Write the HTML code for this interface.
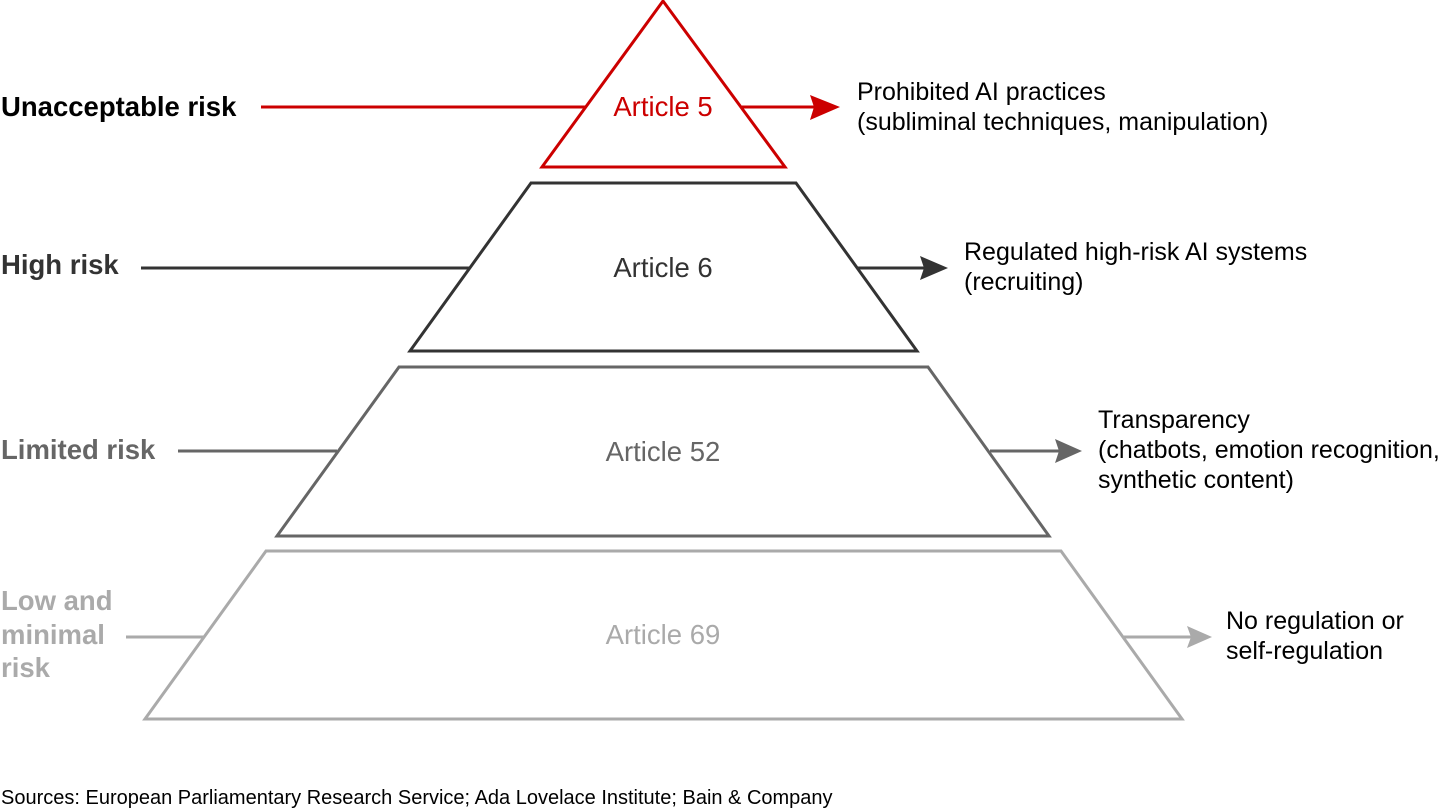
<!DOCTYPE html>
<html><head><meta charset="utf-8"><style>
html,body{margin:0;padding:0;background:#fff;}
svg{display:block}
text{font-family:"Liberation Sans",Arial,sans-serif;}
</style></head><body>
<svg width="1440" height="810" viewBox="0 0 1440 810" xmlns="http://www.w3.org/2000/svg">
<g fill="none" stroke-width="3">
<polygon points="663,1 542,167 785,167" stroke="#cc0000"/>
<polygon points="531,183 796,183 917,351 410,351" stroke="#333333"/>
<polygon points="399,367 928,367 1049,536 277,536" stroke="#666666"/>
<polygon points="266,551 1061,551 1182,719 145,719" stroke="#aaaaaa"/>
<line x1="261" y1="107" x2="586" y2="107" stroke="#cc0000"/>
<line x1="742" y1="107" x2="815" y2="107" stroke="#cc0000"/>
<line x1="141" y1="268" x2="470" y2="268" stroke="#333333"/>
<line x1="858" y1="268" x2="925" y2="268" stroke="#333333"/>
<line x1="178" y1="451" x2="337" y2="451" stroke="#666666"/>
<line x1="990" y1="451" x2="1060" y2="451" stroke="#666666"/>
<line x1="126" y1="637" x2="205" y2="637" stroke="#aaaaaa"/>
<line x1="1124" y1="637" x2="1192" y2="637" stroke="#aaaaaa"/>
</g>
<polygon points="840,107 810,95 814,107 810,120" fill="#cc0000"/>
<polygon points="948,268 920,256 924,268 920,280" fill="#333333"/>
<polygon points="1082,451 1055,439 1059,451 1055,463" fill="#666666"/>
<polygon points="1212,637 1187,626 1191,637 1187,648" fill="#aaaaaa"/>
<g font-size="27.5" text-anchor="middle">
<text x="663" y="116" fill="#cc0000">Article 5</text>
<text x="663" y="277" fill="#333333">Article 6</text>
<text x="663" y="461" fill="#666666">Article 52</text>
<text x="663" y="644" fill="#aaaaaa">Article 69</text>
</g>
<g font-size="27.5" font-weight="bold">
<text x="1" y="116" fill="#000">Unacceptable risk</text>
<text x="1" y="274" fill="#333333">High risk</text>
<text x="1" y="459" fill="#666666">Limited risk</text>
<text x="1" y="610" fill="#aaaaaa">Low and</text>
<text x="1" y="644" fill="#aaaaaa">minimal</text>
<text x="1" y="677" fill="#aaaaaa">risk</text>
</g>
<g font-size="25" fill="#000">
<text x="857" y="100">Prohibited AI practices</text>
<text x="857" y="130">(subliminal techniques, manipulation)</text>
<text x="964" y="260">Regulated high-risk AI systems</text>
<text x="964" y="290">(recruiting)</text>
<text x="1098" y="428">Transparency</text>
<text x="1098" y="458">(chatbots, emotion recognition,</text>
<text x="1098" y="488">synthetic content)</text>
<text x="1226" y="629">No regulation or</text>
<text x="1226" y="659">self-regulation</text>
</g>
<text x="1" y="804" font-size="20" fill="#000">Sources: European Parliamentary Research Service; Ada Lovelace Institute; Bain &amp; Company</text>
</svg>
</body></html>
